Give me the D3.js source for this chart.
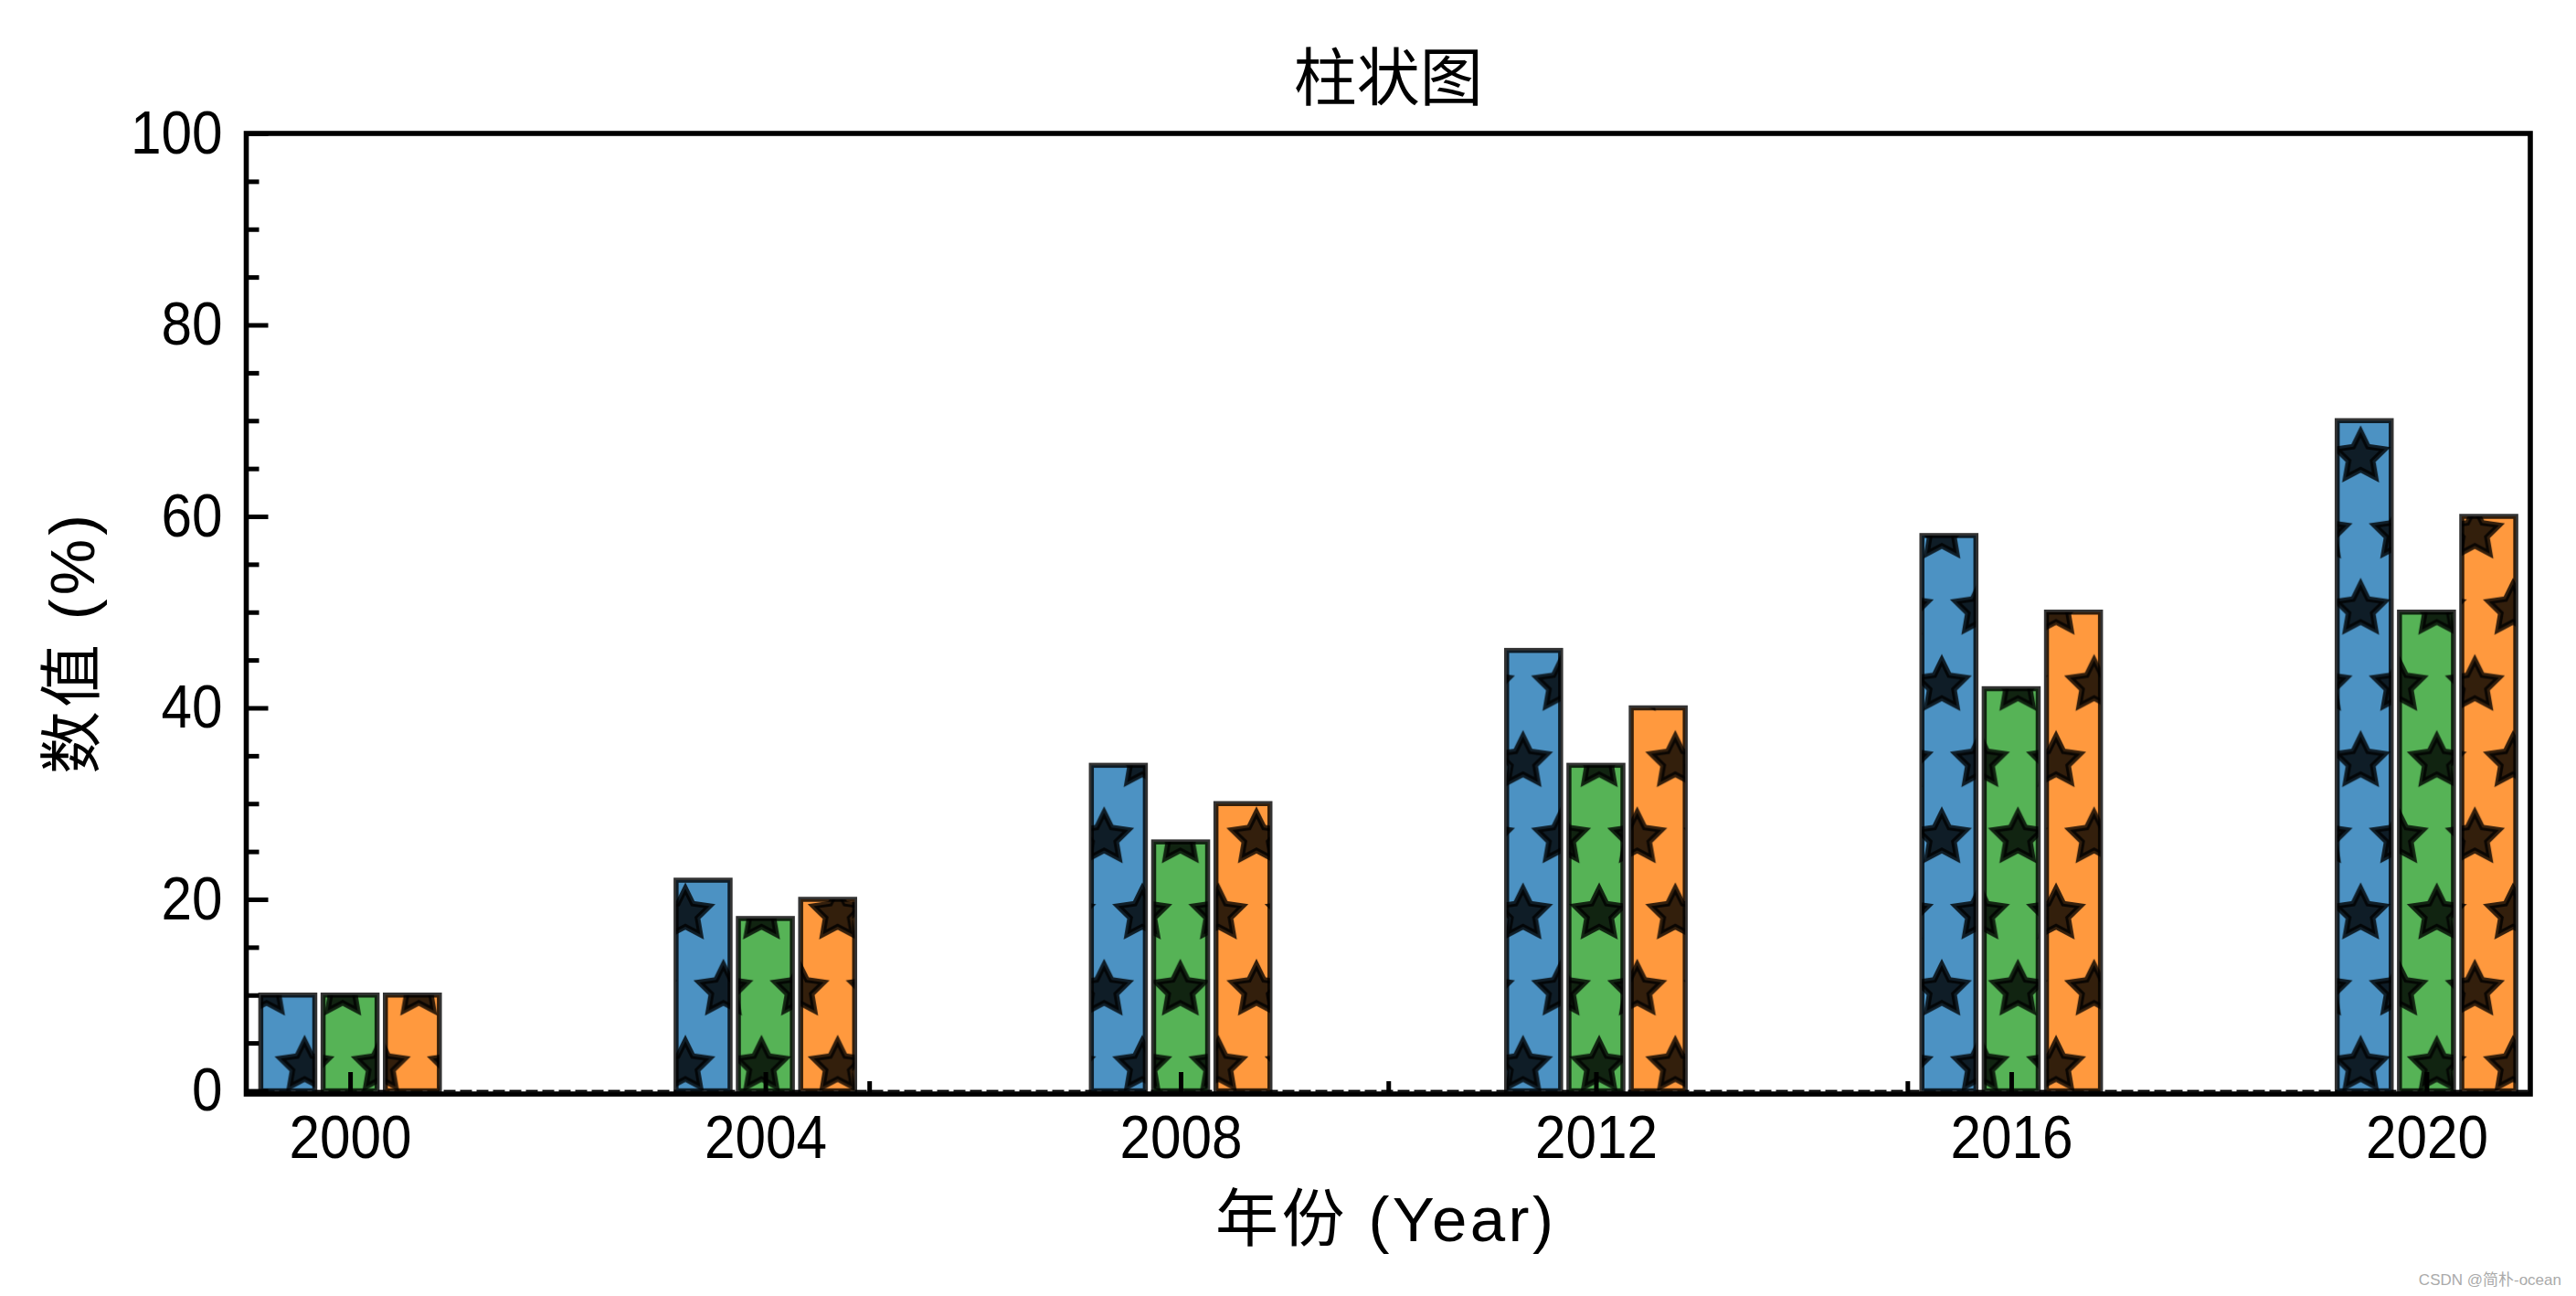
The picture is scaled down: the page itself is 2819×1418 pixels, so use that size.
<!DOCTYPE html>
<html><head><meta charset="utf-8">
<script src="https://cdn.jsdelivr.net/npm/d3@7"></script>
<style>html,body{margin:0;padding:0;background:#fff;} svg{display:block;}</style>
</head><body>
<script>
// ---- data ----
const years = [2000, 2004, 2008, 2012, 2016, 2020];
const seriesBlue = [10, 22, 34, 46, 58, 70];
const seriesGreen = [10, 18, 26, 34, 42, 50];
const seriesOrange = [10, 20, 30, 40, 50, 60];
const yTicks = [0, 20, 40, 60, 80, 100];
const yMinorTicks = [5, 10, 15, 25, 30, 35, 45, 50, 55, 65, 70, 75, 85, 90, 95];
const xTicks = [2000, 2004, 2008, 2012, 2016, 2020];
const xMinorTicks = [2005, 2010, 2015];
const titleText = "柱状图";
const xLabelText = "年份 (Year)";
const yLabelText = "数值 (%)";
const watermark = "CSDN @简朴-ocean";

(function () {
// ---- layout ----
const W = 2819, H = 1418;
const pLeft = 269.5, pRight = 2769, pTop = 146, pBottom = 1197, zeroPx = 1193.5;
const x = d3.scaleLinear().domain([1999, 2021]).range([pLeft, pRight]);
const y = d3.scaleLinear().domain([0, 100]).range([zeroPx, pTop]);
const barWidth = 0.52, groupOffset = 0.6;
const series = [
  {values: seriesBlue, color: "#1f77b4", off: -groupOffset},
  {values: seriesGreen, color: "#2ca02c", off: 0},
  {values: seriesOrange, color: "#ff7f0e", off: groupOffset}
];

const svg = d3.select("body").append("svg").attr("width", W).attr("height", H)
  .attr("viewBox", `0 0 ${W} ${H}`);
svg.append("rect").attr("width", W).attr("height", H).attr("fill", "#fff");

// ---- star hatch pattern (matplotlib '*' hatch, 500 dpi tile) ----
const tile = 500, rows = 6, step = tile / rows, R = step / 3;
function starPath(cx, cy) {
  const pts = [];
  for (let k = 0; k < 10; k++) {
    const a = Math.PI / 2 + k * Math.PI / 5;
    const r = k % 2 === 0 ? R : R / 2;
    pts.push([cx + r * Math.cos(a), cy - r * Math.sin(a)]);
  }
  return "M" + pts.map(p => p[0].toFixed(2) + "," + p[1].toFixed(2)).join("L") + "Z";
}
const defs = svg.append("defs");
const pat = defs.append("pattern").attr("id", "stars")
  .attr("patternUnits", "userSpaceOnUse")
  .attr("x", 0).attr("y", 0).attr("width", step).attr("height", 2 * step);
[[0, 0], [step, 0], [0, 2 * step], [step, 2 * step], [step / 2, step]].forEach(([cx, cy]) => {
  pat.append("path").attr("d", starPath(cx, cy))
    .attr("fill", "rgba(0,0,0,0.8)")
    .attr("stroke", "rgba(0,0,0,0.8)")
    .attr("stroke-width", 6)
    .attr("stroke-linejoin", "miter");
});

// ---- zero dashed line ----
svg.append("line").attr("x1", pLeft).attr("x2", pRight)
  .attr("y1", y(0)).attr("y2", y(0))
  .attr("stroke", "#000").attr("stroke-width", 2.2).attr("stroke-dasharray", "13,5");

// ---- bars ----
series.forEach(s => {
  const g = svg.append("g");
  const data = years.map((yr, i) => ({yr, v: s.values[i]}));
  const bx = d => x(d.yr + s.off - barWidth / 2);
  const bw = d => x(d.yr + s.off + barWidth / 2) - x(d.yr + s.off - barWidth / 2);
  g.selectAll("rect.face").data(data).join("rect").attr("class", "face")
    .attr("x", bx).attr("width", bw).attr("y", d => y(d.v)).attr("height", d => y(0) - y(d.v))
    .attr("fill", s.color).attr("fill-opacity", 0.8);
  g.selectAll("rect.hatch").data(data).join("rect").attr("class", "hatch")
    .attr("x", bx).attr("width", bw).attr("y", d => y(d.v)).attr("height", d => y(0) - y(d.v))
    .attr("fill", "url(#stars)");
  g.selectAll("rect.edge").data(data).join("rect").attr("class", "edge")
    .attr("x", bx).attr("width", bw).attr("y", d => y(d.v)).attr("height", d => y(0) - y(d.v))
    .attr("fill", "none").attr("stroke", "#000").attr("stroke-opacity", 0.8).attr("stroke-width", 5.5);
});

// ---- axes ----
const tickFont = '"Liberation Sans", Arial, sans-serif';
const yAxis = svg.append("g").attr("transform", `translate(${pLeft},0)`)
  .call(d3.axisLeft(y).tickValues(yTicks).tickSize(-24).tickPadding(26).tickFormat(d3.format("d")));
const yMinor = svg.append("g").attr("transform", `translate(${pLeft},0)`)
  .call(d3.axisLeft(y).tickValues(yMinorTicks).tickSize(-14).tickFormat(""));
const xAxis = svg.append("g").attr("transform", `translate(0,${pBottom})`)
  .call(d3.axisBottom(x).tickValues(xTicks).tickSize(-24).tickPadding(23).tickFormat(d3.format("d")));
const xMinor = svg.append("g").attr("transform", `translate(0,${pBottom})`)
  .call(d3.axisBottom(x).tickValues(xMinorTicks).tickSize(-14).tickFormat(""));
[yAxis, yMinor, xAxis, xMinor].forEach(a => {
  a.select(".domain").remove();
  a.selectAll(".tick line").attr("stroke", "#000").attr("stroke-width", 5);
  a.selectAll("text").attr("font-family", tickFont).attr("font-size", 66).attr("fill", "#000")
    .each(function () {
      const t = d3.select(this); const s = t.text();
      if (s.length) t.attr("textLength", s.length * 33.5).attr("lengthAdjust", "spacingAndGlyphs");
    });
});

// ---- spines ----
svg.append("rect").attr("x", pLeft).attr("y", pTop).attr("width", pRight - pLeft).attr("height", pBottom - pTop)
  .attr("fill", "none").attr("stroke", "#000").attr("stroke-width", 5.6);

// ---- labels ----
const labelFont = '"Liberation Sans", "Noto Sans CJK SC", sans-serif';
svg.append("text").text(titleText).attr("x", (pLeft + pRight) / 2).attr("y", 80)
  .attr("text-anchor", "middle").attr("dominant-baseline", "central")
  .attr("font-family", '"Noto Sans CJK SC", sans-serif').attr("font-size", 69);
svg.append("text").text(xLabelText).attr("x", 1515).attr("y", 1334)
  .attr("text-anchor", "middle").attr("dominant-baseline", "central")
  .attr("font-family", labelFont).attr("font-size", 69)
  .attr("textLength", 370).attr("lengthAdjust", "spacing");
svg.append("text").text(yLabelText)
  .attr("transform", `translate(79,705) rotate(-90)`)
  .attr("text-anchor", "middle").attr("dominant-baseline", "central")
  .attr("font-family", labelFont).attr("font-size", 69)
  .attr("textLength", 284).attr("lengthAdjust", "spacing");
svg.append("text").text(watermark).attr("x", 2803).attr("y", 1406)
  .attr("text-anchor", "end").attr("font-family", '"Liberation Sans", "Noto Sans CJK SC", sans-serif')
  .attr("font-size", 17).attr("fill", "#aaaaaa");
})();
</script>
</body></html>
